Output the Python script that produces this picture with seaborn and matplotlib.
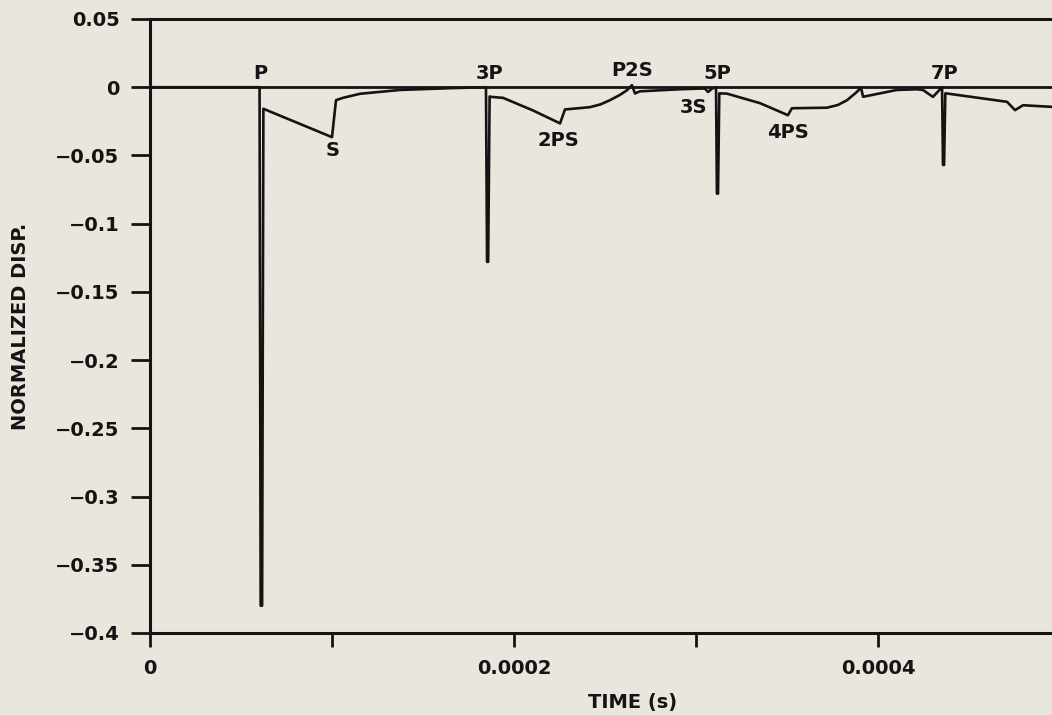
import numpy as np
import pandas as pd
import matplotlib
matplotlib.use("Agg")
import matplotlib.pyplot as plt
import seaborn as sns

# Normalized surface displacement trace, time in microseconds
time_us = [
    0.0, 60.2,
    60.8, 61.6, 62.3,
    100.0, 102.2, 106.0, 115.4, 137.4, 164.8, 184.6,
    185.2, 185.8, 186.6, 187.6, 194.0, 210.4,
    225.3, 228.0, 241.8, 247.5, 252.7, 258.0, 262.1, 264.8, 266.5, 269.2,
    291.2, 302.2, 304.9, 306.6, 308.8, 311.0,
    311.5, 312.1, 312.8, 317.0, 335.2,
    350.5, 352.7, 372.0, 378.0, 383.0, 387.9, 390.7, 391.8,
    410.4, 421.4, 424.7, 430.2, 434.1, 435.2,
    435.7, 436.3, 437.0, 437.9, 470.9,
    475.3, 479.7, 495.6, 505.0,
]
disp = [
    0.0, 0.0,
    -0.380, -0.380, -0.0158,
    -0.0366, -0.0095, -0.0078, -0.0048, -0.0020, -0.0007, 0.0,
    -0.128, -0.128, -0.0068, -0.0071, -0.0078, -0.0170,
    -0.0265, -0.0163, -0.0146, -0.0126, -0.0095, -0.0058, -0.0022, 0.0015, -0.0046, -0.0030,
    -0.0015, -0.0010, -0.0010, -0.0035, -0.0010, 0.0,
    -0.078, -0.078, -0.0045, -0.0047, -0.0117,
    -0.0205, -0.0154, -0.0150, -0.0130, -0.0095, -0.0040, -0.0005, -0.0070,
    -0.0020, -0.0015, -0.0020, -0.0071, -0.0015, 0.0,
    -0.057, -0.057, -0.0045, -0.0046, -0.0107,
    -0.0168, -0.0132, -0.0144, -0.0145,
]

# Wave arrival labels: text, time (us), displacement
phase_names = ["P", "S", "3P", "2PS", "P2S", "3S", "5P", "4PS", "7P"]
phase_time_us = [60.4, 100.5, 186.3, 224.2, 264.8, 298.4, 311.5, 350.5, 436.8]
phase_disp = [0.0103, -0.0462, 0.0103, -0.0388, 0.0125, -0.0147, 0.0103, -0.0330, 0.0103]

x_ticks = [0.0, 0.0001, 0.0002, 0.0003, 0.0004, 0.0005]
x_tick_labels = ["0", "", "0.0002", "", "0.0004", ""]
y_ticks = [0.05, 0.0, -0.05, -0.1, -0.15, -0.2, -0.25, -0.3, -0.35, -0.4]
y_tick_labels = ["0.05", "0", "\u22120.05", "\u22120.1", "\u22120.15", "\u22120.2",
                 "\u22120.25", "\u22120.3", "\u22120.35", "\u22120.4"]

paper = "#ebe6dd"
ink = "#141414"

sns.set_theme(style="white")
plt.rcParams["font.family"] = ["DejaVu Sans"]

df = pd.DataFrame({"time": np.array(time_us) * 1e-6, "disp": disp})

W, H = 1052, 715
fig = plt.figure(figsize=(W / 100, H / 100), dpi=100, facecolor=paper)
ax = fig.add_axes([150 / W, 1 - 633 / H, 910 / W, 614 / H])
ax.set_facecolor(paper)

ax.axhline(0, color=ink, lw=2.0, zorder=1)
sns.lineplot(data=df, x="time", y="disp", sort=False, estimator=None,
             color=ink, lw=1.9, ax=ax, zorder=2)

for name, t, d in zip(phase_names, phase_time_us, phase_disp):
    ax.text(t * 1e-6, d, name, ha="center", va="center",
            fontsize=14, fontweight="bold", color=ink)

ax.set_xlim(0, 0.0005)
ax.set_ylim(-0.4, 0.05)
ax.set_xticks(x_ticks)
ax.set_xticklabels(x_tick_labels)
ax.set_yticks(y_ticks)
ax.set_yticklabels(y_tick_labels)

ax.tick_params(axis="x", direction="out", length=10, width=2, color=ink,
               pad=9, labelsize=14, labelcolor=ink, bottom=True)
ax.tick_params(axis="y", direction="out", length=14, width=2, color=ink,
               pad=8, labelsize=14, labelcolor=ink, left=True)
for lab in ax.get_xticklabels() + ax.get_yticklabels():
    lab.set_fontweight("bold")

for side in ["left", "bottom", "top"]:
    ax.spines[side].set_color(ink)
    ax.spines[side].set_linewidth(2.2)
ax.spines["right"].set_visible(False)

ax.set_xlabel("TIME (s)", fontsize=14, fontweight="bold", color=ink)
ax.set_ylabel("NORMALIZED DISP.", fontsize=14, fontweight="bold", color=ink)
ax.xaxis.set_label_coords((633 - 150) / 910, (633 - 693) / 614)
ax.yaxis.set_label_coords((30 - 150) / 910, 0.5)

fig.savefig("out.png", dpi=100, facecolor=paper)
